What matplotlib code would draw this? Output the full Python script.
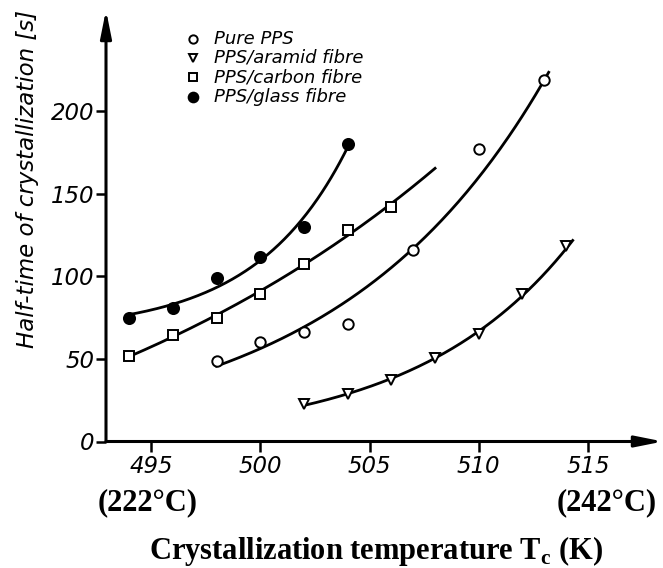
import numpy as np
import matplotlib
matplotlib.use("Agg")
import matplotlib.pyplot as plt
from matplotlib.lines import Line2D

# Crystallization temperature (K) and half-time of crystallization (s)
pure_T = [498, 500, 502, 504, 507, 510, 513]
pure_t = [49, 60, 66, 71, 116, 177, 219]

aramid_T = [502, 504, 506, 508, 510, 512, 514]
aramid_t = [22.5, 28.6, 37, 50.8, 65.1, 89.1, 118.6]

carbon_T = [494, 496, 498, 500, 502, 504, 506]
carbon_t = [51.7, 64.5, 75, 89.3, 107.4, 128.1, 142.1]

glass_T = [494, 496, 498, 500, 502, 504]
glass_t = [75, 81, 99, 111.5, 130, 180]

# temperature range covered by each fitted curve (K)
pure_span = (498, 513.2)
aramid_span = (502, 514.3)
carbon_span = (494, 508)
glass_span = (493.9, 504)

x_ticks = [495, 500, 505, 510, 515]
y_ticks = [0, 50, 100, 150, 200]
series_names = ["Pure PPS", "PPS/aramid fibre", "PPS/carbon fibre", "PPS/glass fibre"]
celsius_notes = ["(222°C)", "(242°C)"]


def exp_curve(T, t, span, offset=False, n=200):
    """Exponential trend through the measured points, evaluated over span.

    Without offset: log-linear least squares, t = a*exp(b*T).
    With offset: t = c + a*exp(b*(T-T0)), b found by a grid search.
    """
    T = np.asarray(T, float)
    t = np.asarray(t, float)
    xs = np.linspace(span[0], span[1], n)
    if not offset:
        b, la = np.polyfit(T, np.log(t), 1)
        return xs, np.exp(la + b * xs)
    T0 = T[0]
    best = None
    for b in np.linspace(0.02, 0.6, 581):
        A = np.column_stack([np.ones_like(T), np.exp(b * (T - T0))])
        coef, *_ = np.linalg.lstsq(A, t, rcond=None)
        r = np.sum((A @ coef - t) ** 2)
        if best is None or r < best[0]:
            best = (r, b, coef)
    _, b, coef = best
    return xs, coef[0] + coef[1] * np.exp(b * (xs - T0))


W, H = 663, 568
fig = plt.figure(figsize=(W / 100, H / 100), dpi=100)
fig.patch.set_facecolor("white")

# axes box in pixels: left edge at the vertical axis, bottom at y=0
ax_l, ax_r, ax_b, ax_t = 106, 663, 441.5, 10
ax = fig.add_axes([ax_l / W, 1 - ax_b / H, (ax_r - ax_l) / W, (ax_b - ax_t) / H])
ax.set_facecolor("white")

px_per_K = 21.85
px_per_s = 1.6525
ax.set_xlim(495 - (151 - ax_l) / px_per_K, 495 + (ax_r - 151) / px_per_K)
ax.set_ylim(0, (ax_b - ax_t) / px_per_s)

for s in ax.spines.values():
    s.set_visible(False)

# axis lines with arrow heads
arrow_kw = dict(arrowstyle="-|>,head_length=1.5,head_width=0.3", lw=2.2,
                color="black", shrinkA=0, shrinkB=0, mutation_scale=11)
ax.annotate("", xy=(0, 1), xytext=(0, 0), xycoords="axes fraction",
            arrowprops=arrow_kw, annotation_clip=False)
ax.annotate("", xy=(1, 0), xytext=(0, 0), xycoords="axes fraction",
            arrowprops=arrow_kw, annotation_clip=False)

tick_font = dict(fontstyle="italic", fontsize=16.5)
ax.set_xticks(x_ticks)
ax.set_yticks(y_ticks)
ax.set_xticklabels([str(v) for v in x_ticks], **tick_font)
ax.set_yticklabels([str(v) for v in y_ticks], **tick_font)
ax.tick_params(axis="both", direction="out", length=7.5, width=1.8, color="black")
ax.tick_params(axis="x", pad=2.5)
ax.tick_params(axis="y", pad=1)

lw = 2.0
mew = 1.4

x, y = exp_curve(glass_T, glass_t, glass_span, offset=True)
ax.plot(x, y, color="black", lw=lw)
x, y = exp_curve(carbon_T, carbon_t, carbon_span, offset=True)
ax.plot(x, y, color="black", lw=lw)
x, y = exp_curve(pure_T, pure_t, pure_span)
ax.plot(x, y, color="black", lw=lw)
x, y = exp_curve(aramid_T, aramid_t, aramid_span)
ax.plot(x, y, color="black", lw=lw)

ax.plot(glass_T, glass_t, "o", ms=8, mfc="black", mec="black", mew=mew, clip_on=False)
ax.plot(carbon_T, carbon_t, "s", ms=6.8, mfc="white", mec="black", mew=mew, clip_on=False)
ax.plot(pure_T, pure_t, "o", ms=7.5, mfc="white", mec="black", mew=mew, clip_on=False)
ax.plot(aramid_T, aramid_t, "v", ms=6.5, mfc="white", mec="black", mew=mew, clip_on=False)

# key: marker column and italic labels
key_markers = [
    dict(marker="o", ms=6, mfc="white"),
    dict(marker="v", ms=5.5, mfc="white"),
    dict(marker="s", ms=6, mfc="white"),
    dict(marker="o", ms=7, mfc="black"),
]
key_rows = [39, 58, 77, 96.5]
for name, style, row in zip(series_names, key_markers, key_rows):
    fig.add_artist(Line2D([193 / W], [1 - row / H], ls="none", mec="black",
                          mew=1.4, transform=fig.transFigure, **style))
    fig.text(214 / W, 1 - row / H, name, ha="left", va="center",
             fontstyle="italic", fontsize=13)

fig.text(28 / W, 1 - 179 / H, "Half-time of crystallization [s]", rotation=90,
         ha="center", va="center", fontstyle="italic", fontsize=16.5)

serif_bold = dict(family="Liberation Serif", weight="bold")
fig.text(148 / W, 1 - 503 / H, celsius_notes[0], ha="center", va="center",
         fontsize=22, **serif_bold)
fig.text(607 / W, 1 - 503 / H, celsius_notes[1], ha="center", va="center",
         fontsize=22, **serif_bold)
fig.text(376 / W, 1 - 551 / H, r"Crystallization temperature T$_\mathregular{c}$ (K)",
         ha="center", va="center", fontsize=22, **serif_bold)

fig.savefig("out.png", dpi=100, facecolor="white")
